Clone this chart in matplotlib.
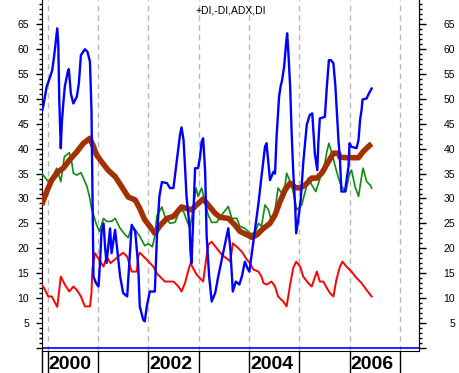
import matplotlib.pyplot as plt
from matplotlib.ticker import MultipleLocator, FixedLocator, FixedFormatter


# x values are decimal years
plus_di_x = [1999.88, 2000.01, 2000.11, 2000.18, 2000.26, 2000.30, 2000.33, 2000.43, 2000.48,
             2000.51, 2000.58, 2000.66, 2000.71, 2000.78, 2000.83, 2000.87, 2000.97, 2001.03,
             2001.11, 2001.17, 2001.27, 2001.34, 2001.44, 2001.54, 2001.60, 2001.67, 2001.74,
             2001.83, 2001.93, 2002.00, 2002.08, 2002.13, 2002.17, 2002.27, 2002.33, 2002.43,
             2002.53, 2002.63, 2002.70, 2002.76, 2002.83, 2002.95, 2002.99, 2003.06, 2003.19,
             2003.26, 2003.36, 2003.46, 2003.59, 2003.66, 2003.76, 2003.82, 2003.92, 2004.02,
             2004.12, 2004.19, 2004.25, 2004.32, 2004.39, 2004.45, 2004.52, 2004.58, 2004.65,
             2004.72, 2004.75, 2004.82, 2004.88, 2004.95, 2005.05, 2005.12, 2005.18, 2005.25,
             2005.33, 2005.51, 2005.55, 2005.59, 2005.65, 2005.71, 2005.78, 2005.84, 2005.93,
             2006.00, 2006.04, 2006.11, 2006.18, 2006.24, 2006.27, 2006.34, 2006.41, 2006.44]
plus_di = [35.1, 33.4, 34.7, 36.1, 33.4, 36.1, 38.4, 39.2, 37.1,
           35.1, 34.7, 35.2, 34.1, 32.4, 30.4, 28.1, 24.7, 23.4,
           26.0, 25.4, 25.4, 26.0, 24.0, 22.7, 22.1, 24.4, 23.7,
           22.4, 20.5, 20.9, 20.3, 22.4, 26.5, 28.3, 26.4, 25.0,
           25.2, 27.7, 27.4, 25.7, 24.0, 32.1, 30.4, 32.1, 26.7,
           25.2, 25.2, 26.7, 28.4, 26.0, 26.0, 24.4, 24.0, 23.0,
           23.0, 25.0, 24.4, 28.7, 27.7, 25.4, 27.7, 32.1, 31.1,
           32.7, 35.1, 33.4, 31.4, 27.7, 28.7, 31.4, 34.1, 32.7,
           31.4, 37.1, 39.4, 41.1, 39.1, 36.7, 34.1, 32.4, 31.4,
           35.1, 35.7, 32.4, 30.4, 34.4, 36.1, 33.4, 32.7, 32.1]

minus_di_x = [1999.88, 1999.95, 2000.01, 2000.08, 2000.19, 2000.26, 2000.34, 2000.43, 2000.51,
              2000.58, 2000.66, 2000.74, 2000.84, 2000.87, 2000.89, 2000.94, 2001.11, 2001.17,
              2001.25, 2001.40, 2001.50, 2001.58, 2001.67, 2001.77, 2001.80, 2001.83, 2001.97,
              2002.10, 2002.18, 2002.33, 2002.50, 2002.60, 2002.66, 2002.73, 2002.80, 2002.84,
              2002.89, 2002.96, 2003.09, 2003.19, 2003.26, 2003.36, 2003.46, 2003.59, 2003.63,
              2003.68, 2003.77, 2003.86, 2003.96, 2004.02, 2004.09, 2004.19, 2004.25, 2004.29,
              2004.35, 2004.45, 2004.52, 2004.58, 2004.68, 2004.75, 2004.82, 2004.88, 2004.94,
              2005.02, 2005.08, 2005.18, 2005.25, 2005.35, 2005.41, 2005.48, 2005.55, 2005.61,
              2005.68, 2005.74, 2005.81, 2005.86, 2005.94, 2006.04, 2006.14, 2006.24, 2006.34,
              2006.44]
minus_di = [12.7, 11.6, 10.3, 10.3, 8.2, 14.3, 12.7, 11.3, 12.3,
            11.6, 10.3, 8.3, 8.3, 11.0, 16.0, 19.0, 16.3, 18.3,
            17.0, 18.3, 19.1, 18.3, 15.3, 15.3, 18.3, 19.1, 17.7,
            16.3, 14.8, 13.3, 13.3, 12.3, 11.3, 13.0, 15.7, 17.0,
            16.0, 14.7, 13.3, 20.7, 21.3, 20.0, 18.7, 17.7, 17.3,
            21.0, 20.2, 19.3, 17.7, 17.0, 15.7, 15.3, 14.3, 13.0,
            12.7, 13.3, 12.3, 10.3, 9.3, 8.3, 12.7, 16.0, 17.3,
            16.3, 14.3, 13.0, 12.3, 15.3, 13.3, 13.3, 12.0, 11.0,
            10.3, 13.7, 16.3, 17.3, 16.3, 15.3, 14.0, 13.0, 11.6,
            10.3]

adx_x = [1999.88, 1999.98, 2000.08, 2000.21, 2000.31, 2000.44, 2000.58, 2000.71, 2000.84,
         2000.91, 2000.97, 2001.07, 2001.20, 2001.34, 2001.47, 2001.60, 2001.74, 2001.83,
         2001.93, 2002.03, 2002.13, 2002.23, 2002.37, 2002.50, 2002.66, 2002.76, 2002.86,
         2002.96, 2003.09, 2003.19, 2003.33, 2003.43, 2003.59, 2003.72, 2003.82, 2003.96,
         2004.06, 2004.16, 2004.29, 2004.42, 2004.52, 2004.62, 2004.72, 2004.82, 2004.92,
         2005.02, 2005.12, 2005.25, 2005.35, 2005.45, 2005.58, 2005.68, 2005.78, 2005.81,
         2005.94, 2006.18, 2006.27, 2006.37, 2006.44]
adx = [28.7, 31.4, 33.7, 35.4, 36.1, 37.8, 39.4, 41.1, 42.1,
       40.4, 38.8, 37.4, 35.7, 34.4, 32.4, 30.3, 29.7, 28.0,
       25.7, 24.4, 23.0, 24.5, 26.0, 26.4, 28.3, 28.0, 27.7,
       28.7, 29.9, 28.7, 27.0, 26.2, 26.0, 24.7, 23.4, 22.7,
       22.2, 22.7, 24.0, 25.0, 26.7, 29.4, 31.7, 33.1, 32.2,
       32.1, 32.7, 34.1, 34.1, 35.1, 37.4, 39.1, 39.1, 38.3,
       38.2, 38.2, 39.4, 40.4, 41.0]

di_x = [1999.88, 1999.91, 1999.98, 2000.05, 2000.09, 2000.13, 2000.17, 2000.19, 2000.21,
        2000.23, 2000.25, 2000.26, 2000.28, 2000.31, 2000.34, 2000.40, 2000.42, 2000.46,
        2000.51, 2000.58, 2000.62, 2000.66, 2000.74, 2000.79, 2000.84, 2000.87, 2000.91,
        2000.96, 2001.01, 2001.04, 2001.07, 2001.11, 2001.14, 2001.17, 2001.24, 2001.27,
        2001.34, 2001.44, 2001.50, 2001.58, 2001.67, 2001.74, 2001.80, 2001.83, 2001.90,
        2001.93, 2001.97, 2002.03, 2002.13, 2002.17, 2002.22, 2002.27, 2002.37, 2002.43,
        2002.50, 2002.56, 2002.63, 2002.66, 2002.70, 2002.73, 2002.76, 2002.82, 2002.84,
        2002.86, 2002.93, 2002.99, 2003.03, 2003.06, 2003.09, 2003.13, 2003.16, 2003.21,
        2003.26, 2003.33, 2003.39, 2003.46, 2003.53, 2003.59, 2003.63, 2003.68, 2003.74,
        2003.81, 2003.86, 2003.92, 2003.97, 2004.01, 2004.12, 2004.19, 2004.25, 2004.32,
        2004.35, 2004.39, 2004.42, 2004.49, 2004.52, 2004.55, 2004.60, 2004.63, 2004.66,
        2004.70, 2004.74, 2004.76, 2004.78, 2004.82, 2004.85, 2004.88, 2004.92, 2004.94,
        2004.98, 2005.03, 2005.08, 2005.15, 2005.21, 2005.26, 2005.28, 2005.31, 2005.36,
        2005.38, 2005.41, 2005.48, 2005.51, 2005.55, 2005.59, 2005.63, 2005.68, 2005.72,
        2005.78, 2005.81, 2005.84, 2005.91, 2005.98, 2006.00, 2006.04, 2006.14, 2006.18,
        2006.21, 2006.24, 2006.26, 2006.34, 2006.37, 2006.44]
di = [47.4, 48.5, 52.5, 54.5, 55.8, 58.8, 62.5, 64.2, 61.2,
      49.8, 43.4, 40.1, 45.1, 49.1, 52.5, 55.5, 56.0, 51.1,
      49.1, 50.5, 53.2, 58.8, 60.0, 59.5, 57.5, 47.8, 14.3,
      13.0, 12.3, 17.0, 23.4, 25.0, 20.3, 17.0, 24.0, 19.0,
      23.7, 14.3, 11.0, 10.3, 24.7, 23.4, 16.3, 8.3, 5.6,
      5.3, 8.3, 11.3, 11.3, 22.0, 30.4, 33.3, 33.1, 32.1,
      32.1, 37.1, 42.8, 44.3, 41.8, 36.4, 30.4, 24.4, 19.0,
      17.0, 36.1, 36.1, 38.4, 41.4, 42.1, 35.4, 22.4, 14.3,
      9.3, 11.0, 14.3, 17.7, 21.0, 24.0, 20.0, 11.3, 13.3,
      12.7, 14.3, 17.3, 16.0, 15.3, 23.7, 29.0, 34.4, 40.4,
      41.1, 37.0, 33.7, 35.4, 35.0, 42.4, 50.5, 52.5, 53.8,
      56.5, 61.2, 63.2, 60.2, 52.5, 43.1, 35.7, 28.4, 23.0,
      25.7, 29.7, 37.1, 44.8, 46.8, 47.1, 43.8, 39.1, 35.7,
      41.1, 46.1, 46.3, 46.4, 52.5, 57.8, 57.8, 57.2, 52.5,
      41.8, 37.8, 31.4, 31.4, 36.4, 41.1, 40.4, 40.1, 41.8,
      45.8, 47.8, 49.9, 50.1, 50.8, 52.1]

year_ticks = [2000, 2001, 2002, 2003, 2004, 2005, 2006, 2007]
year_labels = ['2000', '2002', '2004', '2006']
label_pos = [2000.45, 2002.45, 2004.45, 2006.45]
y_ticks = list(range(0, 70, 5))

font = 'Liberation Sans'


def adx_chart():
    fig = plt.figure(figsize=(4.6, 3.73), dpi=100)
    ax = fig.add_axes([0.0907, 0.0598, 0.8202, 0.9402])

    ax.plot(plus_di_x, plus_di, color='#108a10', lw=1.2, zorder=3)
    ax.plot(minus_di_x, minus_di, color='#ff0000', lw=1.4, zorder=3)
    ax.plot(adx_x, adx, color='#a33000', lw=4.0, zorder=4, solid_capstyle='butt')
    ax.plot(di_x, di, color='#0000ff', lw=1.7, zorder=5)
    ax.axhline(0, color='#0000ff', lw=1.2, zorder=2)

    ax.set_xlim(1999.881, 2007.382)
    ax.set_ylim(-0.6, 69.9)

    # year separators: dashed grid above, solid ticks below
    ax.xaxis.set_major_locator(FixedLocator(year_ticks))
    ax.xaxis.set_major_formatter(FixedFormatter([''] * len(year_ticks)))
    ax.xaxis.set_minor_locator(FixedLocator(label_pos))
    ax.xaxis.set_minor_formatter(FixedFormatter(year_labels))
    ax.tick_params(axis='x', which='major', direction='out', length=16, width=1, color='black')
    ax.tick_params(axis='x', which='minor', length=0, pad=3.5)
    for lab in ax.get_xticklabels(minor=True):
        lab.set_fontfamily(font)
        lab.set_fontweight('bold')
        lab.set_fontsize(14)
    ax.grid(axis='x', which='major', color='#b8b8b8', linestyle=(0, (4, 3)), lw=1)

    ax.yaxis.set_major_locator(FixedLocator(y_ticks))
    ax.yaxis.set_major_formatter(FixedFormatter([''] + [str(v) for v in y_ticks[1:]]))
    ax.yaxis.set_minor_locator(MultipleLocator(1))
    ax.tick_params(axis='y', which='major', length=4.5, width=1, pad=4.5, labelsize=7.5)
    ax.tick_params(axis='y', which='minor', length=2.2, width=1)
    for lab in ax.get_yticklabels():
        lab.set_fontfamily(font)

    # right hand scale
    ax2 = ax.twinx()
    ax2.set_ylim(ax.get_ylim())
    ax2.yaxis.set_major_locator(FixedLocator(y_ticks))
    ax2.yaxis.set_major_formatter(FixedFormatter([''] + [str(v) for v in y_ticks[1:]]))
    ax2.yaxis.set_minor_locator(MultipleLocator(1))
    ax2.tick_params(axis='y', which='major', length=5, width=1, pad=21, labelsize=7.5)
    ax2.tick_params(axis='y', which='minor', length=2.4, width=1)
    for lab in ax2.get_yticklabels():
        lab.set_fontfamily(font)
        lab.set_horizontalalignment('right')

    for a in (ax, ax2):
        a.spines['top'].set_visible(False)
    ax2.spines['bottom'].set_visible(False)
    ax2.spines['left'].set_visible(False)

    # left axis runs down through the date strip
    ax.plot([0, 0], [0, -22.3 / 350.7], transform=ax.transAxes, color='black',
            lw=1, clip_on=False)

    ax.text(0.5, 0.983, '+DI,-DI,ADX,DI', transform=ax.transAxes, ha='center', va='top',
            fontsize=7.5, family=font)

    fig.savefig('out.png', dpi=100)


if __name__ == '__main__':
    adx_chart()
